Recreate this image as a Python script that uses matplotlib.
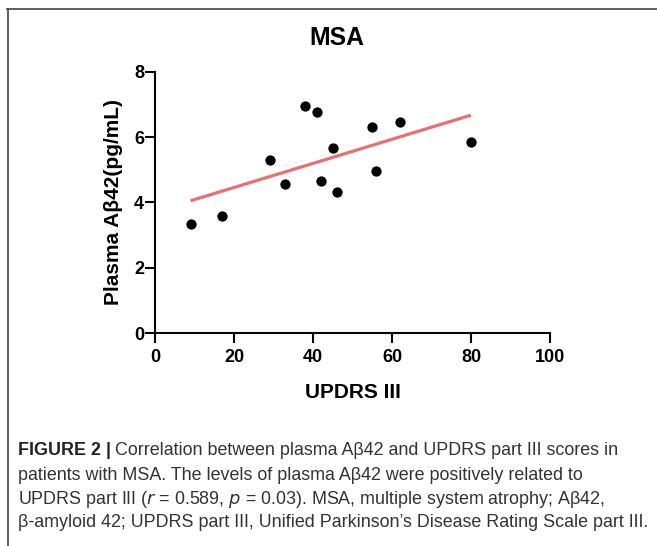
import numpy as np
import matplotlib
matplotlib.use("Agg")
import matplotlib.pyplot as plt
from matplotlib.lines import Line2D

# Data
updrs = [9, 17, 29, 33, 38, 41, 42, 45, 46, 55, 56, 62, 80]
abeta = [3.34, 3.59, 5.30, 4.56, 6.96, 6.77, 4.65, 5.66, 4.31, 6.32, 4.95, 6.47, 5.84]
xticks = [0, 20, 40, 60, 80, 100]
yticks = [0, 2, 4, 6, 8]

W, H = 657, 546
fig = plt.figure(figsize=(W / 100, H / 100), dpi=100)
ax = fig.add_axes([155 / W, 1 - 333 / H, (550 - 155) / W, (333 - 71.7) / H])

bold = dict(family="Liberation Sans", weight="bold")

x = np.array(updrs)
y = np.array(abeta)
slope, intercept = np.polyfit(x, y, 1)
xl = np.array([x.min(), x.max()])
ax.plot(xl, slope * xl + intercept, color="#E8706E", lw=2.3, solid_capstyle="butt", zorder=2)
ax.scatter(x, y, s=55, color="black", zorder=3, linewidths=0)

ax.set_xlim(0, 100)
ax.set_ylim(0, 8)
ax.set_xticks(xticks)
ax.set_yticks(yticks)
ax.set_xticklabels([str(t) for t in xticks], **bold, fontsize=13)
ax.set_yticklabels([str(t) for t in yticks], **bold, fontsize=13)
for s in ["top", "right"]:
    ax.spines[s].set_visible(False)
for s in ["left", "bottom"]:
    ax.spines[s].set_linewidth(1.5)
ax.tick_params(width=1.5, length=7, colors="black")
ax.tick_params(axis="x", pad=4.5)
ax.tick_params(axis="y", pad=1)
ax.set_xlabel("UPDRS III", **bold, fontsize=15, labelpad=12)
ax.set_ylabel("Plasma Aβ42(pg/mL)", **bold, fontsize=15, labelpad=8)

fig.text(337 / W, 1 - 45 / H, "MSA", ha="center", va="baseline", fontsize=17.8, **bold)

# border
fig.add_artist(Line2D([7 / W, 1], [1 - 8.5 / H] * 2, color="#444444", lw=1.2, transform=fig.transFigure))
fig.add_artist(Line2D([7.5 / W] * 2, [0, 1 - 8.5 / H], color="#444444", lw=1.2, transform=fig.transFigure))

cap_font = "Liberation Sans"
cap_col = "#333333"
lines = [
    "patients with MSA. The levels of plasma Aβ42 were positively related to",
    "UPDRS part III ($\\it{r}$ = 0.589, $\\it{p}$ = 0.03). MSA, multiple system atrophy; Aβ42,",
    "β-amyloid 42; UPDRS part III, Unified Parkinson’s Disease Rating Scale part III.",
]
# fit caption size to the reference width of the last line
probe = fig.text(0, 0, lines[2], fontsize=10, family=cap_font)
fig.canvas.draw()
wpx = probe.get_window_extent().width
probe.remove()
cs = 10 * (650 - 18) / wpx

t = fig.text(18 / W, 1 - 455 / H, "FIGURE 2 |", ha="left", va="baseline", fontsize=cs,
             family=cap_font, weight="bold", color="#222222")
fig.canvas.draw()
bb = t.get_window_extent()
fig.text((bb.x1 + 4) / W, 1 - 455 / H,
         "Correlation between plasma Aβ42 and UPDRS part III scores in",
         ha="left", va="baseline", fontsize=cs, family=cap_font, color=cap_col)
for yy, s in zip([480, 503.5, 527], lines):
    fig.text(18 / W, 1 - yy / H, s, ha="left", va="baseline", fontsize=cs,
             family=cap_font, color=cap_col)

fig.savefig("out.png", dpi=100)
